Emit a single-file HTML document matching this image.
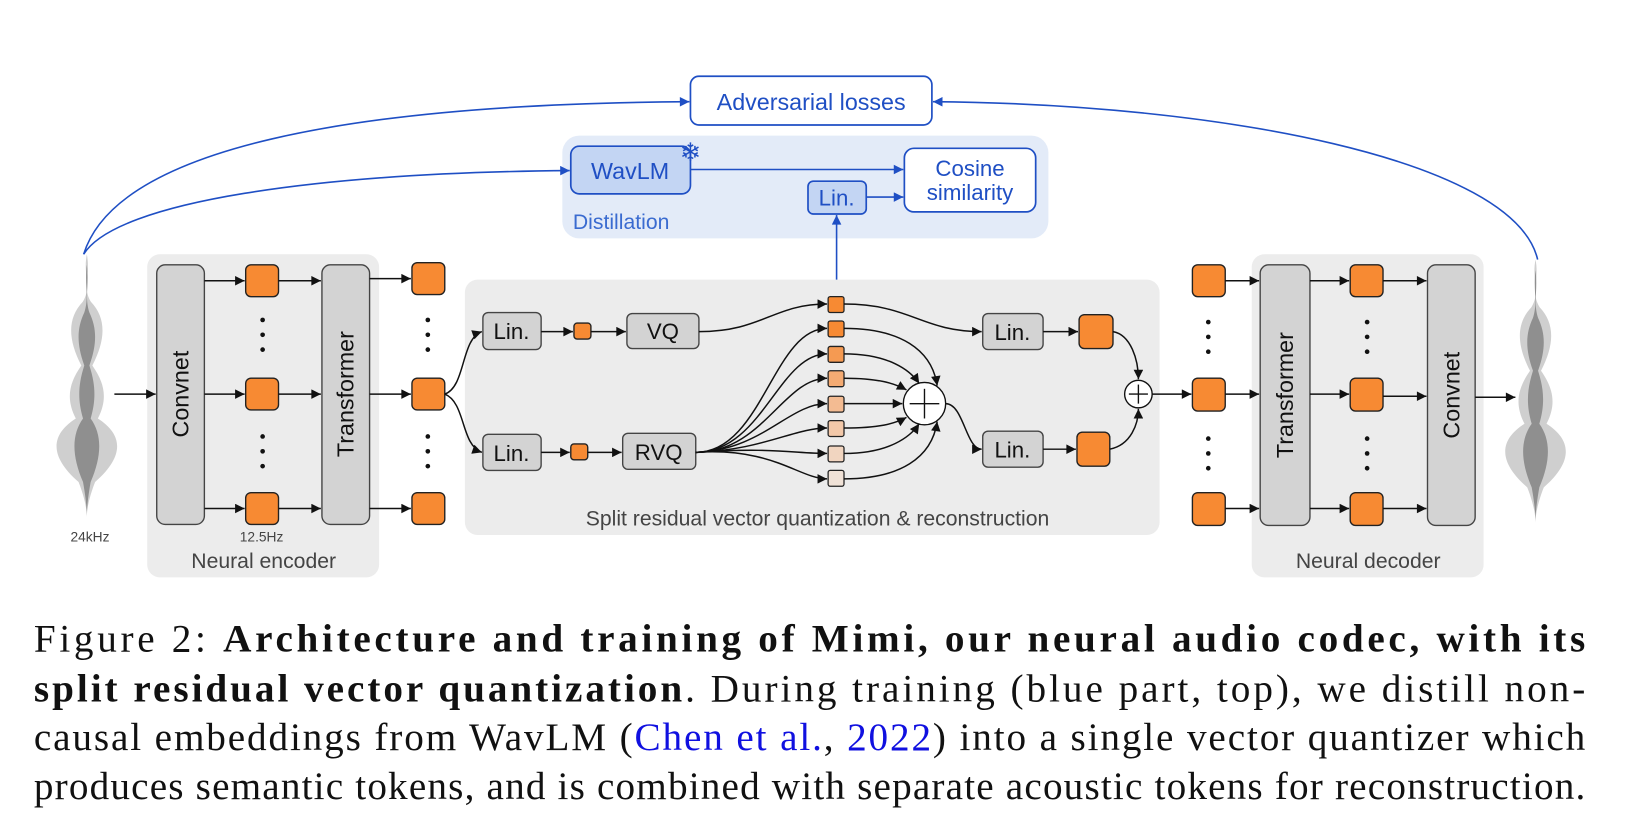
<!DOCTYPE html>
<html><head><meta charset="utf-8"><style>
html,body{margin:0;padding:0;background:#fff;width:1652px;height:838px;overflow:hidden}
svg{display:block}
.s{font-family:"Liberation Sans",sans-serif}
.c{font-family:"Liberation Serif",serif;font-size:37px;fill:#111}
</style></head><body>
<svg width="1652" height="838" viewBox="0 0 1560 791" preserveAspectRatio="none" xmlns="http://www.w3.org/2000/svg">
<defs>
<marker id="a" viewBox="0 0 10 10" refX="10" refY="5" markerWidth="10" markerHeight="9" orient="auto" markerUnits="userSpaceOnUse"><path d="M0,0L10,5L0,10z" fill="#111"/></marker>
<marker id="b" viewBox="0 0 10 10" refX="10" refY="5" markerWidth="10" markerHeight="9" orient="auto" markerUnits="userSpaceOnUse"><path d="M0,0L10,5L0,10z" fill="#1f4fc4"/></marker>
<g id="wave">
<path d="M0,0 C3,20 -4,30 3,45 C14,60 14,80 4,105 C12,120 16,135 8,155 C26,170 28,190 6,215 C0,235 0,245 0,250 C0,245 0,235 -6,215 C-28,190 -26,170 -8,155 C-16,135 -12,120 -4,105 C-14,80 -14,60 -3,45 C4,30 -3,20 0,0z" fill="#cfcfcf" transform="scale(1.3,1)"/>
<path d="M0,10 C2,30 -2,40 2,55 C8,70 8,85 2,105 C6,120 8,135 3,155 C12,170 12,190 3,215 C0,235 0,245 0,248 C0,245 0,235 -3,215 C-12,190 -12,170 -3,155 C-8,135 -6,120 -2,105 C-8,85 -8,70 -2,55 C2,40 -2,30 0,10z" fill="#8f8f8f" transform="scale(1.2,1)"/>
</g>
</defs>

<rect x="531" y="128" width="459" height="97" rx="16" fill="#e3ebf8"/>
<rect x="652" y="72" width="228" height="46" rx="8" fill="#fff" stroke="#1f4fc4" stroke-width="1.6"/>
<text x="766" y="104" text-anchor="middle" class="s" font-size="22" fill="#1f4fc4">Adversarial losses</text>
<rect x="539" y="138" width="113" height="45" rx="8" fill="#c3d5f3" stroke="#1f4fc4" stroke-width="1.6"/>
<text x="595" y="169" text-anchor="middle" class="s" font-size="22" fill="#1f4fc4">WavLM</text>
<text x="652" y="152" text-anchor="middle" class="s" font-size="24" fill="#1f4fc4">❄</text>
<rect x="763" y="171" width="55" height="31" rx="5" fill="#c3d5f3" stroke="#1f4fc4" stroke-width="1.6"/>
<text x="790" y="194" text-anchor="middle" class="s" font-size="21" fill="#1f4fc4">Lin.</text>
<rect x="854" y="140" width="124" height="60" rx="9" fill="#fff" stroke="#1f4fc4" stroke-width="1.6"/>
<text x="916" y="166" text-anchor="middle" class="s" font-size="21" fill="#1f4fc4">Cosine</text>
<text x="916" y="189" text-anchor="middle" class="s" font-size="21" fill="#1f4fc4">similarity</text>
<text x="541" y="216" class="s" font-size="20" fill="#3a6bd0">Distillation</text>
<g stroke="#1f4fc4" stroke-width="1.5" fill="none" marker-end="url(#b)">
<line x1="652" y1="160" x2="853" y2="160"/>
<line x1="818" y1="186" x2="853" y2="186"/>
<line x1="790" y1="280" x2="790" y2="203"/>
<path d="M79,240 C110,140 330,98 651,96"/>
<path d="M79,240 C110,190 300,163 538,161"/>
<path d="M1452,245 C1430,150 1150,98 881,96"/>
</g>

<use href="#wave" x="82" y="240"/>
<use href="#wave" x="1450" y="245"/>
<text x="85" y="511" text-anchor="middle" class="s" font-size="13" fill="#444">24kHz</text>

<rect x="139" y="240" width="219" height="305" rx="12" fill="#ececec"/>
<text x="249" y="536" text-anchor="middle" class="s" font-size="20" fill="#444">Neural encoder</text>
<text x="247" y="511" text-anchor="middle" class="s" font-size="13" fill="#444">12.5Hz</text>
<rect x="439" y="264" width="656" height="241" rx="12" fill="#ececec"/>
<text x="772" y="496" text-anchor="middle" class="s" font-size="20" fill="#444">Split residual vector quantization &amp; reconstruction</text>
<rect x="1182" y="240" width="219" height="305" rx="12" fill="#ececec"/>
<text x="1292" y="536" text-anchor="middle" class="s" font-size="20" fill="#444">Neural decoder</text>

<g stroke="#444" stroke-width="1.3" fill="#d3d3d3">
<rect x="148" y="250" width="45" height="245" rx="8"/>
<rect x="304" y="250" width="45" height="245" rx="8"/>
<rect x="1190" y="250" width="47" height="246" rx="8"/>
<rect x="1348" y="250" width="45" height="246" rx="8"/>
<rect x="456" y="295" width="55" height="35" rx="5"/>
<rect x="456" y="410" width="55" height="34" rx="5"/>
<rect x="592" y="296" width="68" height="33" rx="5"/>
<rect x="588" y="409" width="69" height="34" rx="5"/>
<rect x="928" y="296" width="57" height="34" rx="5"/>
<rect x="928" y="407" width="57" height="34" rx="5"/>
</g>
<g class="s" font-size="22" fill="#111" text-anchor="middle">
<text transform="translate(178,372) rotate(-90)">Convnet</text>
<text transform="translate(334,372) rotate(-90)">Transformer</text>
<text transform="translate(1221,373) rotate(-90)">Transformer</text>
<text transform="translate(1378,373) rotate(-90)">Convnet</text>
</g>
<g class="s" font-size="21" fill="#111" text-anchor="middle">
<text x="483" y="320">Lin.</text><text x="483" y="435">Lin.</text>
<text x="626" y="320">VQ</text><text x="622" y="434">RVQ</text>
<text x="956" y="321">Lin.</text><text x="956" y="432">Lin.</text>
</g>
<g fill="#f78a33" stroke="#222" stroke-width="1.3">
<rect x="232" y="250" width="31" height="30" rx="5"/><rect x="232" y="357" width="31" height="30" rx="5"/><rect x="232" y="465" width="31" height="30" rx="5"/>
<rect x="389" y="248" width="31" height="30" rx="5"/><rect x="389" y="357" width="31" height="30" rx="5"/><rect x="389" y="465" width="31" height="30" rx="5"/>
<rect x="1126" y="250" width="31" height="30" rx="5"/><rect x="1126" y="357" width="31" height="31" rx="5"/><rect x="1126" y="465" width="31" height="31" rx="5"/>
<rect x="1275" y="250" width="31" height="30" rx="5"/><rect x="1275" y="357" width="31" height="31" rx="5"/><rect x="1275" y="465" width="31" height="31" rx="5"/>
<rect x="1019" y="297" width="32" height="32" rx="5"/><rect x="1017" y="408" width="31" height="32" rx="5"/>
<rect x="542" y="305" width="16" height="15" rx="3"/><rect x="539" y="419" width="16" height="15" rx="3"/>
</g>
<g fill="#111">
<circle cx="248" cy="302" r="2.2"/><circle cx="248" cy="316" r="2.2"/><circle cx="248" cy="330" r="2.2"/>
<circle cx="248" cy="412" r="2.2"/><circle cx="248" cy="426" r="2.2"/><circle cx="248" cy="440" r="2.2"/>
<circle cx="404" cy="302" r="2.2"/><circle cx="404" cy="316" r="2.2"/><circle cx="404" cy="330" r="2.2"/>
<circle cx="404" cy="412" r="2.2"/><circle cx="404" cy="426" r="2.2"/><circle cx="404" cy="440" r="2.2"/>
<circle cx="1141" cy="304" r="2.2"/><circle cx="1141" cy="318" r="2.2"/><circle cx="1141" cy="332" r="2.2"/>
<circle cx="1141" cy="414" r="2.2"/><circle cx="1141" cy="428" r="2.2"/><circle cx="1141" cy="442" r="2.2"/>
<circle cx="1291" cy="304" r="2.2"/><circle cx="1291" cy="318" r="2.2"/><circle cx="1291" cy="332" r="2.2"/>
<circle cx="1291" cy="414" r="2.2"/><circle cx="1291" cy="428" r="2.2"/><circle cx="1291" cy="442" r="2.2"/>
</g>

<g stroke="#222" stroke-width="1.2">
<rect x="782" y="280" width="15" height="15" rx="2" fill="#f78a33"/>
<rect x="782" y="303" width="15" height="15" rx="2" fill="#f78a33"/>
<rect x="782" y="327" width="15" height="15" rx="2" fill="#f59a52"/>
<rect x="782" y="350" width="15" height="15" rx="2" fill="#f4ab73"/>
<rect x="782" y="374" width="15" height="15" rx="2" fill="#f3bb92"/>
<rect x="782" y="397" width="15" height="15" rx="2" fill="#f2c8a9"/>
<rect x="782" y="421" width="15" height="15" rx="2" fill="#f1d5c0"/>
<rect x="782" y="444" width="15" height="15" rx="2" fill="#f0e2d7"/>
</g>
<g stroke="#111" stroke-width="1.3" fill="#fff">
<circle cx="873" cy="381" r="20"/>
<circle cx="1075" cy="372" r="13"/>
</g>
<g stroke="#111" stroke-width="1.3">
<line x1="859" y1="381" x2="887" y2="381"/><line x1="873" y1="367" x2="873" y2="395"/>
<line x1="1066" y1="372" x2="1084" y2="372"/><line x1="1075" y1="363" x2="1075" y2="381"/>
</g>

<g stroke="#111" stroke-width="1.4" fill="none" marker-end="url(#a)">
<line x1="108" y1="372" x2="147" y2="372"/>
<line x1="193" y1="265" x2="231" y2="265"/><line x1="193" y1="372" x2="231" y2="372"/><line x1="193" y1="480" x2="231" y2="480"/>
<line x1="263" y1="265" x2="303" y2="265"/><line x1="263" y1="372" x2="303" y2="372"/><line x1="263" y1="480" x2="303" y2="480"/>
<line x1="349" y1="263" x2="388" y2="263"/><line x1="349" y1="372" x2="388" y2="372"/><line x1="349" y1="480" x2="388" y2="480"/>
<path d="M420,372 C440,365 435,320 455,313"/>
<path d="M420,372 C440,380 435,420 455,427"/>
<line x1="511" y1="313" x2="541" y2="313"/><line x1="558" y1="313" x2="591" y2="313"/>
<line x1="511" y1="427" x2="538" y2="427"/><line x1="555" y1="427" x2="587" y2="427"/>
<path d="M660,313 C720,313 730,287 781,287"/>
<path d="M657,427 C720,427 730,310 781,310"/>
<path d="M657,427 C720,427 735,334 781,334"/>
<path d="M657,427 C720,427 740,357 781,357"/>
<path d="M657,427 C720,425 745,381 781,381"/>
<path d="M657,427 C720,425 750,404 781,404"/>
<path d="M657,427 C730,422 750,428 781,428"/>
<path d="M657,427 C730,422 755,452 781,452"/>
<path d="M797,287 C860,287 870,313 927,313"/>
<path d="M797,310 C850,310 880,330 885,364"/>
<path d="M797,334 C840,334 860,350 868,362"/>
<path d="M797,357 C830,357 845,362 856,368"/>
<line x1="797" y1="381" x2="852" y2="381"/>
<path d="M797,404 C830,404 845,400 856,394"/>
<path d="M797,428 C840,428 860,412 868,400"/>
<path d="M797,452 C850,452 880,432 885,398"/>
<path d="M893,381 C910,381 912,424 927,424"/>
<line x1="985" y1="313" x2="1018" y2="313"/><line x1="985" y1="424" x2="1016" y2="424"/>
<path d="M1051,313 C1068,316 1075,340 1075,358"/>
<path d="M1048,424 C1068,420 1075,400 1075,386"/>
<line x1="1088" y1="372" x2="1125" y2="372"/>
<line x1="1157" y1="265" x2="1189" y2="265"/><line x1="1157" y1="372" x2="1189" y2="372"/><line x1="1157" y1="480" x2="1189" y2="480"/>
<line x1="1237" y1="265" x2="1274" y2="265"/><line x1="1237" y1="372" x2="1274" y2="372"/><line x1="1237" y1="480" x2="1274" y2="480"/>
<line x1="1306" y1="265" x2="1347" y2="265"/><line x1="1306" y1="374" x2="1347" y2="374"/><line x1="1306" y1="480" x2="1347" y2="480"/>
<line x1="1393" y1="375" x2="1431" y2="375"/>
</g>

<text class="c" x="32" y="615" textLength="1465" lengthAdjust="spacing">Figure 2: <tspan font-weight="bold">Architecture and training of Mimi, our neural audio codec, with its</tspan></text>
<text class="c" x="32" y="662" textLength="1465" lengthAdjust="spacing"><tspan font-weight="bold">split residual vector quantization</tspan>. During training (blue part, top), we distill non-</text>
<text class="c" x="32" y="708" textLength="1465" lengthAdjust="spacing">causal embeddings from WavLM (<tspan fill="#1010e0">Chen et al.</tspan>, <tspan fill="#1010e0">2022</tspan>) into a single vector quantizer which</text>
<text class="c" x="32" y="754" textLength="1465" lengthAdjust="spacing">produces semantic tokens, and is combined with separate acoustic tokens for reconstruction.</text>
</svg>
</body></html>
